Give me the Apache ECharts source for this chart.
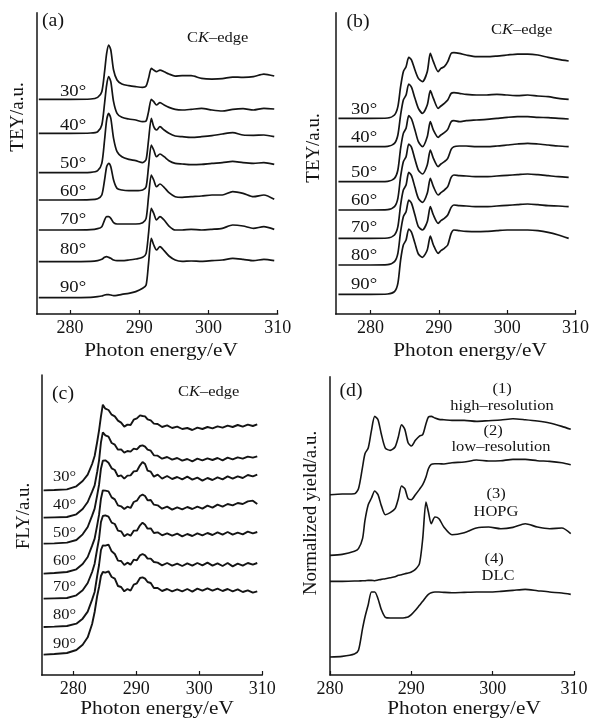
<!DOCTYPE html>
<html><head><meta charset="utf-8">
<script src="https://cdn.jsdelivr.net/npm/echarts@6/dist/echarts.min.js"></script>
<style>html,body{margin:0;padding:0;background:#fff}#c{width:592px;height:723px}</style>
</head><body><div id="c"></div>
<script>
// ---------- Panel (a): TEY, HOPG-like, angle series ----------
const energyA = [275.5,280,283,284,284.6,285.0,285.3,285.6,285.9,286.3,286.8,287.5,288.5,289.5,290.5,291.0,291.35,291.75,292.1,292.5,293.0,293.6,294.3,295.2,296.2,297.5,299,300.5,302,303.5,305,306.5,308,309.5];
const teyA30 = [644,644,645,650,667,727,782,807,792,732,702,690,685,682,680,684,707,737,732,727,732,727,720,714,715,715,707,705,706,711,710,712,720,714];
const teyA40 = [542,542,543,547,567,632,687,712,697,637,602,590,585,582,577,579,607,644,637,627,634,627,620,614,612,614,617,612,609,614,616,612,617,615];
const teyA50 = [424,424,425,430,452,522,582,602,587,527,487,472,464,460,454,464,522,587,562,552,562,552,542,534,532,530,532,535,540,544,537,536,537,532];
const teyA60 = [342,342,343,346,357,402,442,452,442,402,377,372,370,370,372,382,442,507,492,472,480,472,460,452,450,448,449,452,454,458,454,452,454,449];
const teyA70 = [252,252,253,256,262,282,292,292,287,274,270,270,270,270,274,287,352,417,402,382,390,380,364,352,350,352,354,357,357,367,362,352,357,344];
const teyA80 = [157,157,158,160,164,170,172,170,167,162,160,160,162,165,170,182,242,317,302,282,292,282,264,252,252,254,252,254,257,267,264,257,262,254];
const teyA90 = [49,49,50,52,54,57,58,58,57,55,56,59,62,67,77,87,152,227,207,192,202,190,174,162,158,159,158,160,162,167,164,160,164,160];

// ---------- Panel (b): TEY, graphene-like, angle series ----------
const energyB = [275.3,280,282.5,283.5,284.0,284.4,284.8,285.2,285.6,286.0,286.5,287.0,287.6,288.3,288.75,289.2,289.9,290.3,290.8,291.3,291.8,292.2,293,294,295.5,297,298.5,300,301.5,303,304.5,306,307.5,309];
const teyB30 = [587,587,588,597,622,682,727,742,770,762,732,707,697,727,782,757,727,737,742,757,782,784,782,777,772,772,774,777,780,780,777,770,764,759];
const teyB40 = [502,502,503,512,537,597,642,657,690,680,647,617,602,627,670,647,617,624,632,642,662,664,662,659,657,657,659,657,655,657,654,652,647,644];
const teyB50 = [397,397,398,407,432,497,542,557,595,585,552,517,502,532,577,552,530,537,544,554,577,580,577,580,582,584,587,590,592,592,590,589,587,585];
const teyB60 = [312,312,313,322,347,412,457,472,510,500,464,432,420,447,492,467,442,450,457,467,494,502,504,504,502,502,504,507,510,512,510,507,504,502];
const teyB70 = [227,227,228,237,262,327,372,387,425,415,380,347,335,362,407,382,357,364,372,382,410,417,415,414,412,412,414,416,418,420,418,415,412,410];
const teyB80 = [147,147,148,157,182,247,292,307,342,332,297,262,252,277,322,297,272,280,287,297,320,327,325,324,322,322,324,326,328,330,328,325,324,322];
const teyB90 = [59,59,60,67,92,162,207,222,255,245,212,180,170,192,234,207,182,190,197,207,242,252,250,248,247,248,250,252,252,252,250,245,237,227];

// ---------- Panel (c): FLY, angle series ----------
const energyC = [275.3,277,279,280.5,281.5,282.3,283.0,283.4,283.8,284.1,284.4,284.7,285.1,285.6,286.1,286.6,287.1,287.6,288.1,288.6,289.1,289.6,290.1,290.6,291.0,291.4,291.8,292.3,292.8,293.4,294.1,294.9,295.7,296.5,297.3,298.1,298.9,299.7,300.5,301.3,302.1,302.9,303.7,304.5,305.3,306.1,306.9,307.7,308.5,309.2];
const flyC30 = [554,555,557,566,582,601,633,657,699,734,776,811,799,795,781,776,763,757,745,751,750,766,770,779,777,776,767,764,754,753,744,749,741,745,738,741,735,742,738,744,740,746,742,748,744,750,745,751,747,752];
const flyC40 = [472,473,474,482,498,519,550,569,609,644,698,728,719,715,696,691,676,677,667,672,670,679,677,687,689,685,676,673,659,658,649,654,646,651,643,648,641,649,644,650,645,651,644,652,647,653,649,655,652,656];
const flyC50 = [394,395,397,405,422,444,478,499,539,571,619,643,644,637,620,615,596,599,589,598,599,611,612,629,639,633,613,610,595,601,589,597,588,594,587,595,586,592,583,591,585,593,587,596,589,596,591,600,596,601];
const flyC60 = [304,306,309,317,333,354,388,409,449,481,529,554,553,551,533,527,509,506,498,505,501,519,523,537,541,537,524,525,511,509,499,505,496,503,497,504,498,505,499,508,502,511,505,513,509,516,513,521,523,513];
const flyC70 = [229,230,231,239,254,276,309,334,378,409,459,477,479,475,457,453,433,431,416,423,418,433,433,449,457,451,439,440,426,428,419,425,418,424,416,423,417,425,419,426,420,428,421,429,421,427,422,430,425,429];
const flyC80 = [144,145,147,154,169,190,226,249,297,330,375,389,388,391,371,363,343,342,330,337,331,346,344,359,363,359,349,349,339,337,329,336,328,334,327,335,328,336,329,337,328,335,327,336,326,334,328,336,331,336];
const flyC90 = [61,63,66,75,91,113,153,189,237,264,297,309,307,311,294,289,267,264,251,258,253,271,275,291,293,289,279,276,261,261,252,258,251,257,251,258,250,259,253,260,253,259,252,258,251,257,249,254,247,251];

// ---------- Panel (d): normalized yield ----------
const energyD = [280.0,281.5,283.0,283.5,284.0,284.3,284.7,285.1,285.5,285.9,286.3,286.8,287.4,288.0,288.4,288.8,289.2,289.6,290.0,290.5,291.0,291.4,291.8,292.1,292.45,292.9,293.4,294.0,295,296.5,298,299.5,301,302.5,304,305.5,307,308.5,309.6];
const yieldHighRes = [541,543,544,559,624,664,681,734,776,766,724,681,674,684,714,751,737,697,687,704,717,721,754,774,776,771,767,766,764,764,761,763,765,769,766,762,756,746,737];
const yieldLowRes = [359,362,371,379,409,464,511,531,552,541,509,481,487,499,529,567,559,529,526,541,557,571,594,619,632,634,634,633,637,639,645,642,643,647,647,643,641,637,631];
const yieldHOPG = [281,281,282,282,283,283,284,284,283,285,287,289,292,295,299,301,304,306,309,317,334,409,519,489,454,474,469,444,421,427,441,444,439,443,454,444,439,441,424];
const yieldDLC = [54,56,63,74,139,174,211,249,249,229,197,173,171,171,171,171,172,174,181,194,209,221,234,242,247,249,249,248,247,248,249,249,251,254,257,253,249,246,242];

const angleLabels = ['30°','40°','50°','60°','70°','80°','90°'];
const tickValues = [280,290,300,310];
const dLabels = [['(1)','high–resolution'],['(2)','low–resolution'],['(3)','HOPG'],['(4)','DLC']];

const FONT = "'Liberation Serif','Times New Roman',serif";
const INK = '#141414';

const panels = [
  {grid:{left:36.7, top:12.7, width:241, height:301.3}, xmin:275.2, ymax:904, x:energyA, curves:[teyA30,teyA40,teyA50,teyA60,teyA70,teyA80,teyA90], smooth:0.25, lw:1.7},
  {grid:{left:335.7, top:12.7, width:241, height:301.3}, xmin:274.9, ymax:904, x:energyB, curves:[teyB30,teyB40,teyB50,teyB60,teyB70,teyB80,teyB90], smooth:0.25, lw:1.7},
  {grid:{left:41.7, top:375, width:220.6, height:300}, xmin:275, ymax:900, x:energyC, curves:[flyC30,flyC40,flyC50,flyC60,flyC70,flyC80,flyC90], smooth:false, lw:1.9},
  {grid:{left:330, top:376.7, width:244, height:298.3}, xmin:280, ymax:895, x:energyD, curves:[yieldHighRes,yieldLowRes,yieldHOPG,yieldDLC], smooth:0.25, lw:1.6}
];

const grids=[], xAxes=[], yAxes=[], series=[];
panels.forEach((p,i)=>{
  grids.push(Object.assign({containLabel:false}, p.grid));
  xAxes.push({gridIndex:i, type:'value', min:p.xmin, max:310,
    axisLine:{show:true, onZero:false, lineStyle:{color:INK, width:1.5}},
    axisTick:{show:true, inside:true, length:4, customValues:tickValues, lineStyle:{color:INK, width:1.2}},
    axisLabel:{show:true, customValues:tickValues, fontFamily:FONT, fontSize:18, color:INK, margin:5},
    splitLine:{show:false}});
  yAxes.push({gridIndex:i, type:'value', min:0, max:p.ymax,
    axisLine:{show:true, onZero:false, lineStyle:{color:INK, width:1.5}},
    axisTick:{show:false}, axisLabel:{show:false}, splitLine:{show:false}});
  p.curves.forEach(c=>{
    series.push({type:'line', xAxisIndex:i, yAxisIndex:i, showSymbol:false, symbol:'none',
      smooth:p.smooth, silent:true, animation:false,
      lineStyle:{color:INK, width:p.lw},
      data:p.x.map((e,k)=>[e, c[k]])});
  });
});

function txt(x,y,text,size,opts){
  opts = opts||{};
  return {type:'text', x:x, y:y, rotation:opts.rot||0, scaleX:opts.sx||1, silent:true, z:10,
    style:{text:text, fill:INK, fontFamily:FONT, fontSize:size,
      align:opts.align||'center', verticalAlign:'middle',
      textAlign:opts.align||'center', textVerticalAlign:'middle', rich:opts.rich}};
}
const ckRich = {n:{fontFamily:FONT, fontSize:15, fill:INK, color:INK}, i:{fontFamily:FONT, fontSize:15, fontStyle:'italic', fill:INK, color:INK}};
function ck(x,y){ return txt(x,y,'{n|C}{i|K}{n|–edge}',15,{align:'left', rich:ckRich, sx:1.1}); }

const g = [];
// panel (a)
g.push(txt(53,21,'(a)',18,{sx:1.1}));
g.push(ck(187,38));
g.push(txt(18,117,'TEY/a.u.',18,{rot:Math.PI/2, sx:1.05}));
g.push(txt(161,351,'Photon energy/eV',18,{sx:1.18}));
[92,126,164,192,220,250,288].forEach((y,k)=>g.push(txt(60,y,angleLabels[k],17,{align:'left', sx:1.1})));
// panel (b)
g.push(txt(358,22,'(b)',18,{sx:1.1}));
g.push(ck(491,30));
g.push(txt(314,148,'TEY/a.u.',18,{rot:Math.PI/2, sx:1.05}));
g.push(txt(470,351,'Photon energy/eV',18,{sx:1.18}));
[110,138,173,201,228,256,285].forEach((y,k)=>g.push(txt(351,y,angleLabels[k],17,{align:'left', sx:1.1})));
// panel (c)
g.push(txt(63,394,'(c)',18,{sx:1.1}));
g.push(ck(178,392));
g.push(txt(24,516,'FLY/a.u.',18,{rot:Math.PI/2, sx:1.05}));
g.push(txt(157,709,'Photon energy/eV',18,{sx:1.18}));
[477,505,533,561,587,615,644].forEach((y,k)=>g.push(txt(53,y,angleLabels[k],15,{align:'left', sx:1.1})));
// panel (d)
g.push(txt(351,391,'(d)',18,{sx:1.1}));
g.push(txt(311,513,'Normalized yield/a.u.',18,{rot:Math.PI/2, sx:1.05}));
g.push(txt(464,709,'Photon energy/eV',18,{sx:1.18}));
const dPos = [[502,389,502,406],[493,431,501,447],[496,494,496,512],[494,559,498,576]];
dPos.forEach((p,k)=>{
  g.push(txt(p[0],p[1],dLabels[k][0],15,{sx:1.1}));
  g.push(txt(p[2],p[3],dLabels[k][1],15,{sx:1.1}));
});

const chart = echarts.init(document.getElementById('c'), null, {renderer:'canvas'});
chart.setOption({animation:false, backgroundColor:'#fff', grid:grids, xAxis:xAxes, yAxis:yAxes, series:series, graphic:g});
</script></body></html>
